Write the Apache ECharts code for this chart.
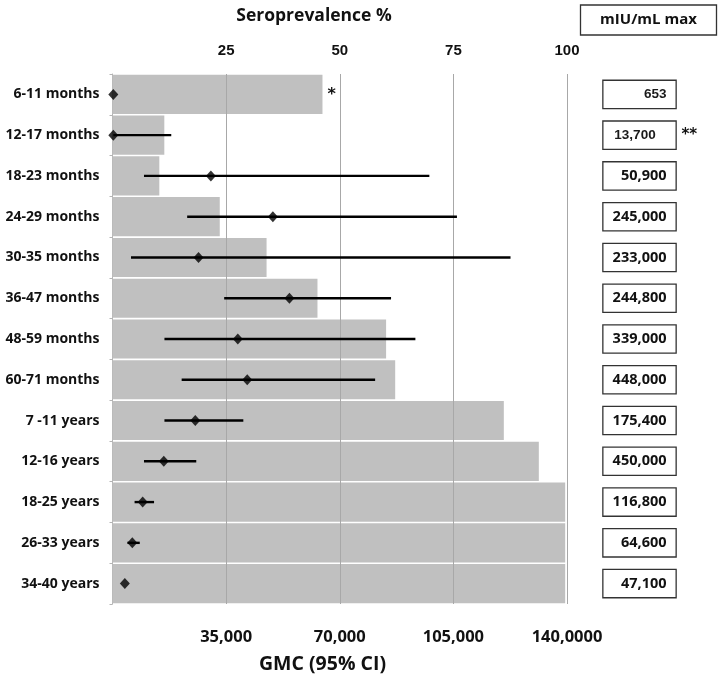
<!DOCTYPE html>
<html>
<head>
<meta charset="utf-8">
<script src="https://cdn.jsdelivr.net/npm/echarts@6/dist/echarts.min.js"></script>
<style>html,body{margin:0;padding:0;background:#fff}#c{width:722px;height:680px}</style>
</head>
<body>
<div id="c"></div>
<script>
var categories = ['6-11 months','12-17 months','18-23 months','24-29 months','30-35 months','36-47 months','48-59 months','60-71 months','7 -11 years','12-16 years','18-25 years','26-33 years','34-40 years'];
var seroprevalence = [46.2, 11.4, 10.3, 23.6, 33.9, 45.1, 60.2, 62.2, 86.1, 93.8, 99.6, 99.6, 99.6];
var gmc = [250, 250, 30300, 49400, 26500, 54500, 38600, 41500, 25500, 15800, 9300, 6100, 3800];
var ciLow = [250, 250, 9700, 23000, 5700, 34400, 16000, 21300, 16000, 9700, 6800, 4600, 3800];
var ciHigh = [250, 18100, 97600, 106100, 122600, 85800, 93300, 80900, 40300, 25800, 12800, 8400, 3800];
var maxValues = ['653','13,700','50,900','245,000','233,000','244,800','339,000','448,000','175,400','450,000','116,800','64,600','47,100'];
var barNotes = ['*','','','','','','','','','','','',''];
var maxNotes = ['','**','','','','','','','','','','',''];
var topTickValues = [25, 50, 75, 100];
var topTickLabels = ['25', '50', '75', '100'];
var bottomTickValues = [35000, 70000, 105000, 140000];
var bottomTickLabels = ['35,000', '70,000', '105,000', '140,0000'];
var topTitle = 'Seroprevalence %';
var bottomTitle = 'GMC (95% CI)';
var maxHeader = 'mIU/mL max';

var chart = echarts.init(document.getElementById('c'));
var calibri = '"Open Sans", Lato, sans-serif';

var option = {
  backgroundColor: '#fff',
  animation: false,
  grid: { left: 112.5, right: 155, top: 74, bottom: 76, containLabel: false },
  xAxis: [
    {
      type: 'value', position: 'top', min: 0, max: 100, interval: 25,
      axisLine: { show: false }, axisTick: { show: false }, splitLine: { show: false },
      axisLabel: {
        margin: 16, color: '#111', fontFamily: '"Liberation Sans", Arial, sans-serif', fontWeight: 'bold', fontSize: 15,
        formatter: function (v) { var i = topTickValues.indexOf(v); return i < 0 ? '' : topTickLabels[i]; }
      }
    },
    {
      type: 'value', position: 'bottom', min: 0, max: 140000, interval: 35000,
      axisLine: { show: false }, axisTick: { show: false }, splitLine: { show: false },
      axisLabel: {
        margin: 25, color: '#111', fontFamily: calibri, fontWeight: 'bold', fontSize: 16.5,
        formatter: function (v) { var i = bottomTickValues.indexOf(v); return i < 0 ? '' : bottomTickLabels[i]; }
      }
    }
  ],
  yAxis: [
    {
      type: 'category', inverse: true, data: categories, position: 'left',
      axisLine: { show: true, lineStyle: { color: '#b5b5b5', width: 1 } },
      axisTick: { show: true, length: 3, lineStyle: { color: '#b5b5b5' } },
      axisLabel: { margin: 13, color: '#111', fontFamily: calibri, fontWeight: 'bold', fontSize: 14 }
    },
    {
      type: 'category', inverse: true, data: categories, position: 'right',
      axisLine: { show: false }, axisTick: { show: false },
      axisLabel: {
        margin: 36.5,
        formatter: function (v, i) {
          var st = i < 2 ? 'bs' : 'b';
          return '{' + st + '|' + maxValues[i] + '}' + (maxNotes[i] ? '{n|' + maxNotes[i] + '}' : '');
        },
        rich: {
          b: { width: 63, height: 27, align: 'right', padding: [0, 9, 0, 0], borderColor: '#333', borderWidth: 1.3,
               backgroundColor: '#fff', color: '#111', fontFamily: calibri, fontWeight: 'bold', fontSize: 14.5 },
          bs: { width: 63, height: 27, align: 'right', padding: [0, 9, 0, 0], borderColor: '#333', borderWidth: 1.3,
               backgroundColor: '#fff', color: '#1a1a1a', fontFamily: '"Liberation Sans", Arial, sans-serif', fontWeight: 'bold', fontSize: 13.5 },
          n: { color: '#111', fontFamily: '"DejaVu Sans", sans-serif', fontWeight: 'bold', fontSize: 15, padding: [0, 0, 0, 6] }
        }
      }
    }
  ],
  series: [
    {
      type: 'bar', xAxisIndex: 0, yAxisIndex: 0, data: seroprevalence, barCategoryGap: '4%',
      itemStyle: { color: '#c0c0c0' }, z: 2,
      label: {
        show: true, position: 'right', distance: 5, color: '#111', fontFamily: '"DejaVu Sans", sans-serif', fontWeight: 'bold', fontSize: 16,
        formatter: function (p) { return barNotes[p.dataIndex]; }
      }
    },
    {
      type: 'custom', xAxisIndex: 1, yAxisIndex: 0, z: 6,
      data: ciLow.map(function (l, i) { return [l, ciHigh[i], i]; }),
      renderItem: function (params, api) {
        var a = api.coord([api.value(0), api.value(2)]);
        var b = api.coord([api.value(1), api.value(2)]);
        return { type: 'line', shape: { x1: a[0], y1: a[1], x2: b[0], y2: b[1] }, style: { stroke: '#000', lineWidth: 2.4 } };
      },
      encode: { x: [0, 1], y: 2 }
    },
    {
      type: 'scatter', xAxisIndex: 1, yAxisIndex: 0, z: 7,
      data: gmc.map(function (v, i) { return [v, i]; }),
      symbol: 'diamond', symbolSize: [10, 11], itemStyle: { color: '#000' },
      markLine: {
        silent: true, symbol: ['none', 'none'], label: { show: false },
        lineStyle: { color: '#a8a8a8', width: 1, type: 'solid' },
        data: bottomTickValues.map(function (v) { return { xAxis: v }; })
      }
    }
  ],
  graphic: [
    { type: 'text', x: 314, y: 16, style: { text: topTitle, textAlign: 'center', textVerticalAlign: 'middle', fill: '#111', font: 'bold 17.5px "Open Sans", sans-serif' } },
    { type: 'text', x: 322.5, y: 664, style: { text: bottomTitle, textAlign: 'center', textVerticalAlign: 'middle', fill: '#111', font: 'bold 19.5px "Open Sans", sans-serif' } },
    { type: 'rect', shape: { x: 580.5, y: 5, width: 136, height: 30 }, style: { fill: '#fff', stroke: '#333', lineWidth: 1.3 } },
    { type: 'text', x: 648.5, y: 20, style: { text: maxHeader, textAlign: 'center', textVerticalAlign: 'middle', fill: '#111', font: 'bold 15px "Open Sans", sans-serif' } }
  ]
};
chart.setOption(option);
</script>
</body>
</html>
